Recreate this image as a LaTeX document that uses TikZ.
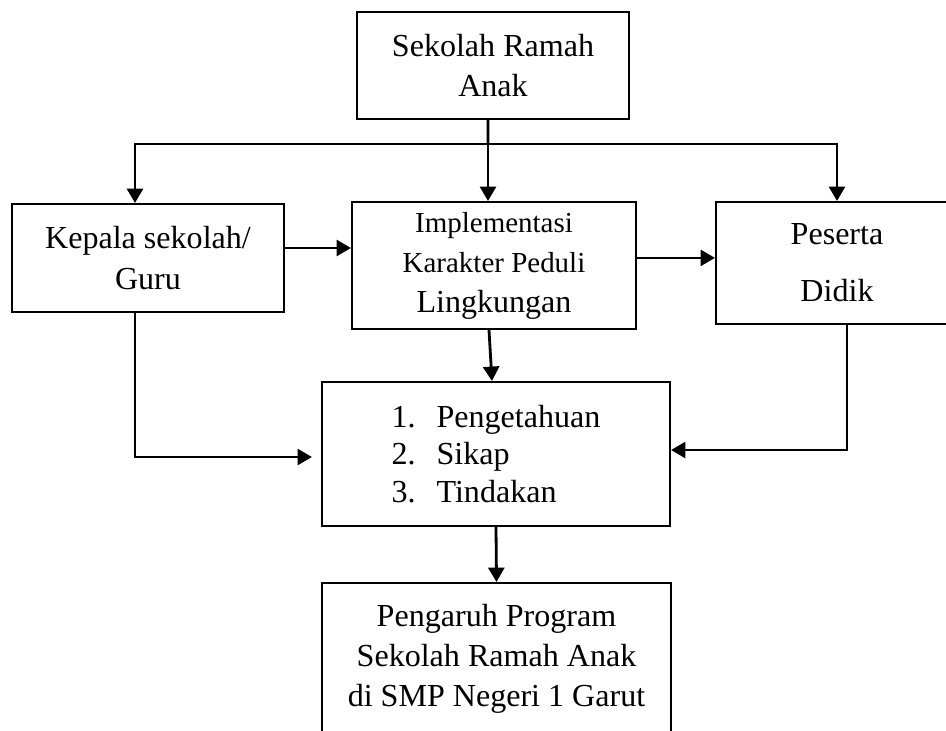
\documentclass[tikz,border=0pt]{standalone}
\usepackage{fontspec}
\setmainfont{Liberation Serif}
\usetikzlibrary{arrows.meta}

\newcommand{\fbig}{\fontsize{22.8pt}{28.5pt}\selectfont}
\newcommand{\fsmall}{\fontsize{20.6pt}{26pt}\selectfont}

\tikzset{
  box/.style={draw, line width=0.05cm, align=center, inner sep=0pt, font=\fbig},
  arrow/.style={line width=0.07cm, -{Triangle[length=0.36cm,width=0.4cm]}},
  line/.style={line width=0.07cm}
}

\begin{document}
\begin{tikzpicture}[x=0.025cm, y=-0.025cm]
\useasboundingbox (0,0) rectangle (946,730);
\clip (0,0) rectangle (946,730);

\node[box, minimum width=6.8cm, minimum height=2.675cm] (sra) at (493,65.5) {Sekolah Ramah\\Anak};

\node[box, minimum width=6.8cm, minimum height=2.7cm] (kepala) at (148,258) {Kepala sekolah/\\Guru};
\node[box, minimum width=7.1cm, minimum height=3.175cm] (impl) at (494,265.5) {\fsmall Implementasi\\\fsmall Karakter Peduli\\\fbig Lingkungan};
\node[box, minimum width=6.05cm, minimum height=3.05cm] (peserta) at (837,263) {Peserta\\[12pt]Didik};

\node[box, align=left, minimum width=8.7cm, minimum height=3.6cm, font=\fontsize{22.8pt}{26.7pt}\selectfont] (aspek) at (496,454)
  {\makebox[1.125cm][l]{1.}Pengetahuan\\\makebox[1.125cm][l]{2.}Sikap\\\makebox[1.125cm][l]{3.}Tindakan};

\node[box, anchor=north, minimum width=8.725cm, minimum height=4.9cm] (pengaruh) at (496.5,582) {Pengaruh Program\\Sekolah Ramah Anak\\di SMP Negeri 1 Garut\\\strut};

\coordinate (bus) at (488,144);
\draw[line] ([xshift=-0.125cm]sra.south) -- (bus);
\draw[arrow] (bus) -- (bus |- impl.north);
\draw[arrow] (bus) -| ([xshift=-0.325cm]kepala.north);
\draw[arrow] (bus) -| (peserta.north);

\draw[arrow] ([yshift=0.25cm]kepala.east) coordinate (k1) -- (k1 -| impl.west);
\draw[arrow] ([yshift=0.19cm]impl.east) coordinate (i1) -- (i1 -| peserta.west);

\draw[arrow] ([xshift=-0.125cm]impl.south) -- ([xshift=-0.1cm]aspek.north);
\draw[arrow, shorten >=0.225cm] ([xshift=-0.325cm]kepala.south) |- ([yshift=-0.075cm]aspek.west);
\draw[arrow] ([xshift=0.25cm]peserta.south) |- ([yshift=0.1cm]aspek.east);

\draw[arrow] (aspek.south) -- (pengaruh.north);

\end{tikzpicture}
\end{document}
